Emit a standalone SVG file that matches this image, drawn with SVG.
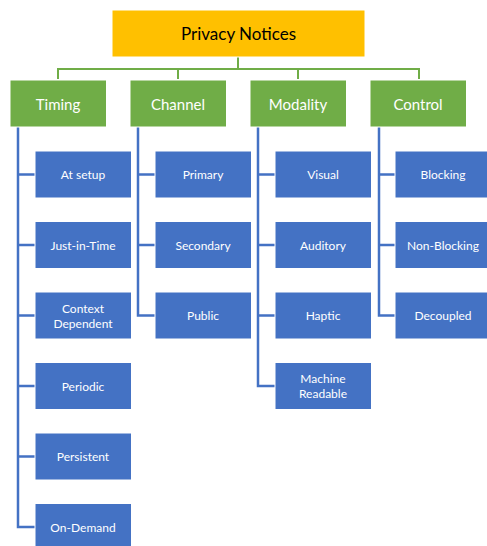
<svg xmlns="http://www.w3.org/2000/svg" width="487" height="546" viewBox="0 0 487 546">
<style>
.root{fill:#FFC000;stroke:#fff;stroke-width:1}
.cat{fill:#70AD47;stroke:#fff;stroke-width:1}
.leaf{fill:#4472C4;stroke:#fff;stroke-width:1}
.t{font-family:Lato,"Open Sans",sans-serif;text-anchor:middle;dominant-baseline:central}
.tr{font-size:17px;fill:#000}
.tc{font-size:15px;fill:#fff}
.tl{font-size:12px;fill:#fff}
.g{fill:none;stroke:#70AD47;stroke-width:2}
.b{fill:none;stroke:#4472C4;stroke-width:2.5}
</style>
<rect width="487" height="546" fill="#fff"/>
<g id="connectors">
<path class="g" d="M238,57V69M58,79V69H419V79M178,69V79M298,69V79"/>
<path class="b" d="M18,127V527H35M18,174.5H35M18,245H35M18,315.5H35M18,386H35M18,456.5H35"/>
<path class="b" d="M138,127V315.5H155M138,174.5H155M138,245H155"/>
<path class="b" d="M258,127V386H275M258,174.5H275M258,245H275M258,315.5H275"/>
<path class="b" d="M379,127V315.5H395M379,174.5H395M379,245H395"/>
</g>
<g id="privacy-notices"><rect class="root" x="112" y="10" width="253" height="47"/><text class="t tr" x="238.5" y="33.5">Privacy Notices</text></g>
<g id="timing"><rect class="cat" x="10" y="80" width="96.5" height="47"/><text class="t tc" x="58" y="103.5">Timing</text></g>
<g id="channel"><rect class="cat" x="130" y="80" width="96.5" height="47"/><text class="t tc" x="178" y="103.5">Channel</text></g>
<g id="modality"><rect class="cat" x="250" y="80" width="96.5" height="47"/><text class="t tc" x="298" y="103.5">Modality</text></g>
<g id="control"><rect class="cat" x="370" y="80" width="96.5" height="47"/><text class="t tc" x="418" y="103.5">Control</text></g>

<g id="at-setup"><rect class="leaf" x="35" y="151" width="96.5" height="47"/><text class="t tl" x="83" y="174.5">At setup</text></g>
<g id="just-in-time"><rect class="leaf" x="35" y="221.5" width="96.5" height="47"/><text class="t tl" x="83" y="245">Just-in-Time</text></g>
<g id="context-dependent"><rect class="leaf" x="35" y="292" width="96.5" height="47"/><text class="t tl" x="83" y="308">Context</text><text class="t tl" x="83" y="323">Dependent</text></g>
<g id="periodic"><rect class="leaf" x="35" y="362.5" width="96.5" height="47"/><text class="t tl" x="83" y="386">Periodic</text></g>
<g id="persistent"><rect class="leaf" x="35" y="433" width="96.5" height="47"/><text class="t tl" x="83" y="456.5">Persistent</text></g>
<g id="on-demand"><rect class="leaf" x="35" y="503.5" width="96.5" height="47"/><text class="t tl" x="83" y="527">On-Demand</text></g>

<g id="primary"><rect class="leaf" x="155" y="151" width="96.5" height="47"/><text class="t tl" x="203" y="174.5">Primary</text></g>
<g id="secondary"><rect class="leaf" x="155" y="221.5" width="96.5" height="47"/><text class="t tl" x="203" y="245">Secondary</text></g>
<g id="public"><rect class="leaf" x="155" y="292" width="96.5" height="47"/><text class="t tl" x="203" y="315.5">Public</text></g>

<g id="visual"><rect class="leaf" x="275" y="151" width="96.5" height="47"/><text class="t tl" x="323" y="174.5">Visual</text></g>
<g id="auditory"><rect class="leaf" x="275" y="221.5" width="96.5" height="47"/><text class="t tl" x="323" y="245">Auditory</text></g>
<g id="haptic"><rect class="leaf" x="275" y="292" width="96.5" height="47"/><text class="t tl" x="323" y="315.5">Haptic</text></g>
<g id="machine-readable"><rect class="leaf" x="275" y="362.5" width="96.5" height="47"/><text class="t tl" x="323" y="378.5">Machine</text><text class="t tl" x="323" y="393.5">Readable</text></g>

<g id="blocking"><rect class="leaf" x="395" y="151" width="96.5" height="47"/><text class="t tl" x="443" y="174.5">Blocking</text></g>
<g id="non-blocking"><rect class="leaf" x="395" y="221.5" width="96.5" height="47"/><text class="t tl" x="443" y="245">Non-Blocking</text></g>
<g id="decoupled"><rect class="leaf" x="395" y="292" width="96.5" height="47"/><text class="t tl" x="443" y="315.5">Decoupled</text></g>
</svg>
